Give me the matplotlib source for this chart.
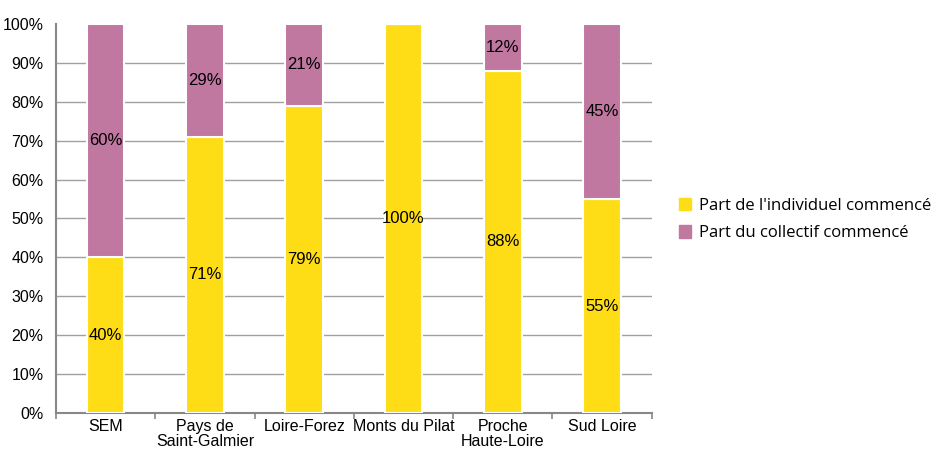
import numpy as np
import matplotlib.pyplot as plt
from matplotlib.patches import Patch

# donnees
territoires = ['SEM', 'Pays de\nSaint-Galmier', 'Loire-Forez', 'Monts du Pilat',
               'Proche\nHaute-Loire', 'Sud Loire']
individuel = [40, 71, 79, 100, 88, 55]
collectif = [60, 29, 21, 0, 12, 45]
noms_series = ["Part de l'individuel commencé", "Part du collectif commencé"]

jaune = '#FEDD17'
violet = '#C077A0'
police = ['Liberation Sans Narrow', 'Liberation Sans', 'DejaVu Sans']

fig = plt.figure(figsize=(9.39, 4.5), dpi=100)
ax = fig.add_axes([0.0596, 0.0822, 0.6345, 0.8645])

x = np.arange(len(territoires))
ax.bar(x, individuel, width=0.38, color=jaune, edgecolor='white', linewidth=1.5, zorder=3)
ax.bar(x, collectif, width=0.38, bottom=individuel, color=violet, edgecolor='white',
       linewidth=1.5, zorder=3)

for i in range(len(x)):
    if individuel[i] > 0:
        ax.text(x[i], individuel[i] / 2, f'{individuel[i]}%', ha='center', va='center',
                fontsize=12, family=police, zorder=4)
    if collectif[i] > 0:
        ax.text(x[i], individuel[i] + collectif[i] / 2, f'{collectif[i]}%', ha='center',
                va='center', fontsize=12, family=police, zorder=4)

ax.set_xlim(-0.5, len(x) - 0.5)
ax.set_ylim(0, 100)
ax.set_yticks(np.arange(0, 101, 10))
ax.set_yticklabels([f'{v}%' for v in range(0, 101, 10)], family=police, fontsize=11.5)
ax.yaxis.grid(True, color='#a0a0a0', linewidth=1, zorder=0)
ax.set_axisbelow(True)
# pas de ligne de grille en haut
ax.yaxis.get_gridlines()[-1].set_visible(False)

ax.set_xticks(x)
ax.set_xticklabels(territoires, family=police, fontsize=11.5, linespacing=1.05)
ax.set_xticks(np.arange(-0.5, len(x), 1), minor=True)
ax.tick_params(axis='x', which='major', length=0, pad=4)
ax.tick_params(axis='x', which='minor', length=4, color='#888888', width=1.2)
ax.tick_params(axis='y', length=0, pad=9)

for s in ['top', 'right']:
    ax.spines[s].set_visible(False)
for s in ['left', 'bottom']:
    ax.spines[s].set_color('#888888')
    ax.spines[s].set_linewidth(1.5)

handles = [Patch(color=jaune), Patch(color=violet)]
fig.legend(handles, noms_series, loc='center left', bbox_to_anchor=(0.707, 0.512),
           frameon=False, prop={'family': ['Open Sans', 'DejaVu Sans'], 'size': 12},
           handlelength=0.75, handleheight=0.75, handletextpad=0.45, labelspacing=0.68)

fig.savefig('out.png', dpi=100)
